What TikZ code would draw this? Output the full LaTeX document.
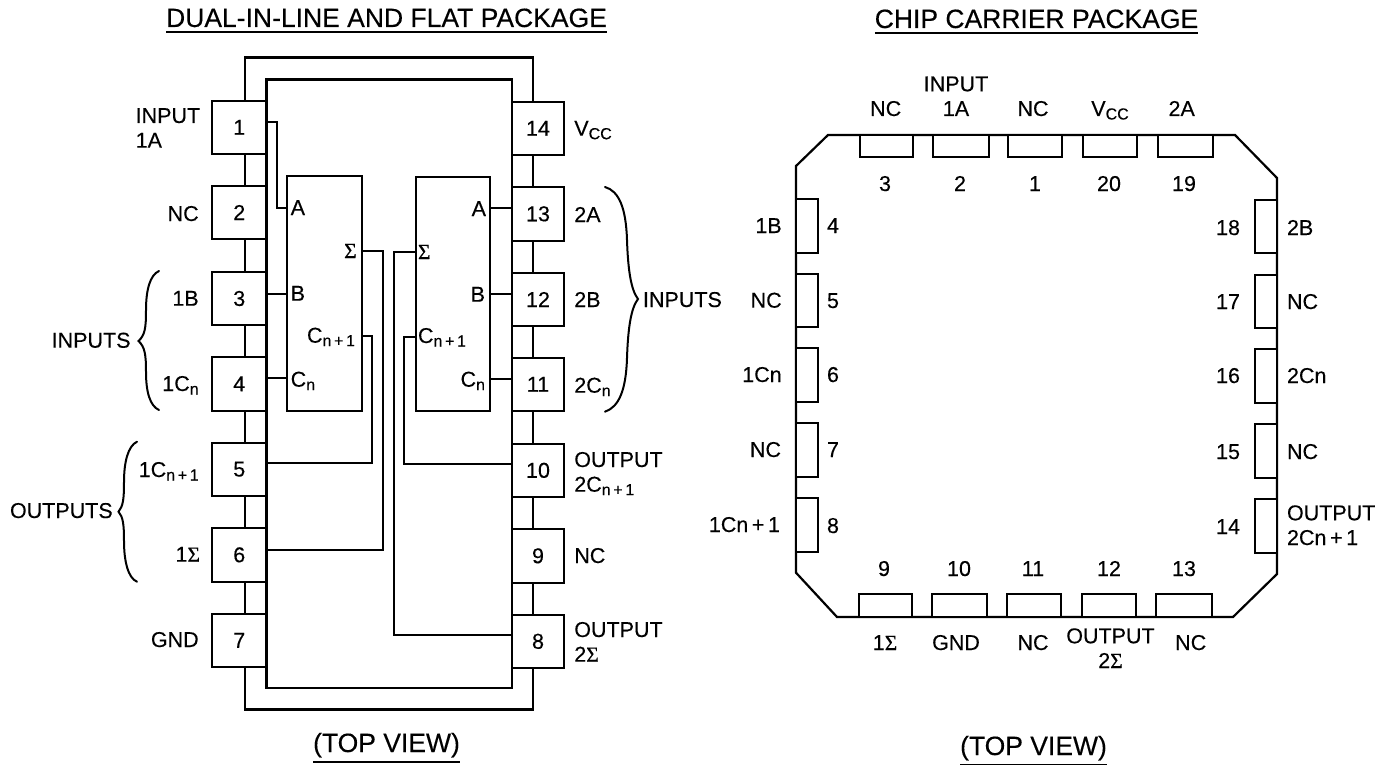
\documentclass[tikz,border=0pt]{standalone}
\usepackage{fontspec}
\setmainfont[FakeBold=0.25]{Liberation Sans}
\newfontfamily\sigmafont[FakeBold=0.5]{Liberation Serif}
\usetikzlibrary{calc}
\newcommand{\Sg}{{\sigmafont Σ}}
\newcommand{\low}[1]{\raisebox{-3.5pt}{\fontsize{16}{16}\selectfont #1}}
\newcommand{\ulx}[1]{\leavevmode\vtop{\hbox{#1}\kern 3.5pt\hrule height 2.2pt}}
\tikzset{
  wire/.style={line width=1.8pt,line join=miter},
  boxline/.style={line width=2.2pt,line join=miter},
  txt/.style={inner sep=0pt,outer sep=0pt,font=\fontsize{21.5}{24.7}\selectfont},
  tl/.style={txt,anchor=base west},
  tr/.style={txt,anchor=base east},
  tc/.style={txt,anchor=base},
  ttl/.style={tc,font=\fontsize{26.5}{30}\selectfont},
  pinbox/.style={boxline,draw,fill=white,inner sep=0pt,outer sep=0pt,txt},
  pad/.style={boxline,draw,fill=white,inner sep=0pt,outer sep=0pt},
  brace/.style={line width=2pt,line cap=round}
}
\newcommand{\boxnode}[7]{%
  % style, name, x1, y1, x2, y2, text
  \node[#1,minimum width=#5pt-#3pt,minimum height=#6pt-#4pt] (#2) at ({(#3+#5)/2},{(#4+#6)/2}) {#7};%
}
\begin{document}
\begin{tikzpicture}[x=1pt,y=-1pt]
\useasboundingbox (0,0) rectangle (1391,765);

% titles
\node[ttl] (t1) at (386.5,27) {\ulx{DUAL-IN-LINE AND FLAT PACKAGE}};
\node[ttl] (t2) at (1036.5,28) {\ulx{CHIP CARRIER PACKAGE}};
\node[ttl] (t3) at (386.5,752) {\ulx{(TOP VIEW)}};
\node[ttl] (t4) at (1033.5,755) {\ulx{(TOP VIEW)}};

% outer lead frame and body of the DIL package
\draw[boxline] (245,100.7) -- (245,57.5) -- (532.7,57.5) -- (532.7,101.7);
\draw[boxline] (245,154) -- (245,186) (245,239) -- (245,272) (245,325) -- (245,357)
  (245,410.7) -- (245,442.7) (245,495.7) -- (245,528) (245,581.7) -- (245,614);
\draw[boxline] (245,666.7) -- (245,709.5) -- (532.7,709.5) -- (532.7,667.7);
\draw[boxline] (532.7,155) -- (532.7,187) (532.7,240.7) -- (532.7,273) (532.7,326) -- (532.7,357.7)
  (532.7,411) -- (532.7,444) (532.7,496.7) -- (532.7,529) (532.7,582.7) -- (532.7,615);
\node[boxline,draw,inner sep=0pt,minimum width=245.5pt,minimum height=608.5pt] (body) at (389.2,383.7) {};

% DIL pins
\boxnode{pinbox}{p1}{212}{100.7}{266.5}{154}{1}
\boxnode{pinbox}{p2}{212}{186}{266.5}{239}{2}
\boxnode{pinbox}{p3}{212}{272}{266.5}{325}{3}
\boxnode{pinbox}{p4}{212}{357}{266.5}{410.7}{4}
\boxnode{pinbox}{p5}{212}{442.7}{266.5}{495.7}{5}
\boxnode{pinbox}{p6}{212}{528}{266.5}{581.7}{6}
\boxnode{pinbox}{p7}{212}{614}{266.5}{666.7}{7}
\boxnode{pinbox}{p14}{512}{101.7}{564}{155}{14}
\boxnode{pinbox}{p13}{512}{187}{564}{240.7}{13}
\boxnode{pinbox}{p12}{512}{273}{564}{326}{12}
\boxnode{pinbox}{p11}{512}{357.7}{564}{411}{11}
\boxnode{pinbox}{p10}{512}{444}{564}{496.7}{10}
\boxnode{pinbox}{p9}{512}{529}{564}{582.7}{9}
\boxnode{pinbox}{p8}{512}{615}{564}{667.7}{8}

% adder blocks
\boxnode{pad}{L}{287.3}{176}{362.3}{410.7}{}
\boxnode{pad}{R}{415.7}{176.7}{490}{411}{}

% block ports
\coordinate (Lai) at (L.west |- 0,207.7);
\coordinate (Lbi) at (L.west |- 0,294);
\coordinate (Lci) at (L.west |- 0,378);
\coordinate (Lso) at (L.east |- 0,251);
\coordinate (Lco) at (L.east |- 0,336);
\coordinate (Rai) at (R.east |- 0,208);
\coordinate (Rbi) at (R.east |- 0,294);
\coordinate (Rci) at (R.east |- 0,379);
\coordinate (Rso) at (R.west |- 0,251.7);
\coordinate (Rco) at (R.west |- 0,336.7);

% internal wiring
\draw[wire] (p1.east |- 0,121.7) -| (276.7,207.7) -- (Lai);
\draw[wire] (p3.east |- Lbi) -- (Lbi);
\draw[wire] (p4.east |- Lci) -- (Lci);
\draw[wire] (Lso) -| (383.3,550) -- (p6.east |- 0,550);
\draw[wire] (Lco) -| (372.3,463.3) -- (p5.east |- 0,463.3);
\draw[wire] (Rso) -| (394,635) -- (p8.west |- 0,635);
\draw[wire] (Rco) -| (404.3,464) -- (p10.west |- 0,464);
\draw[wire] (Rai) -- (p13.west |- Rai);
\draw[wire] (Rbi) -- (p12.west |- Rbi);
\draw[wire] (Rci) -- (p11.west |- Rci);

% block labels
\node[tl] (la) at (290.7,215) {A};
\node[tl] (lb) at (290.7,300.7) {B};
\node[tl] (lc) at (290.7,386.7) {C\low{n}};
\node[tr] (ls) at (356.7,258) {\Sg};
\node[tr] (lk) at (355,342.7) {C\low{n\,+\,1}};
\node[tr] (ra) at (486,216) {A};
\node[tr] (rb) at (485,301.7) {B};
\node[tr] (rc) at (485,386.7) {C\low{n}};
\node[tl] (rs) at (418,259) {\Sg};
\node[tl] (rk) at (418,343) {C\low{n\,+\,1}};

% DIL left labels
\node[tl,align=left] (d1) at (135.7,147.7) {INPUT\\1A};
\node[tr] (d2) at (198.7,221) {NC};
\node[tr] (d3) at (198.7,305.7) {1B};
\node[tr] (d4) at (198.7,391) {1C\low{n}};
\node[tr] (d5) at (198.7,477) {1C\low{n\,+\,1}};
\node[tr] (d6) at (200,561.7) {1\Sg};
\node[tr] (d7) at (198.7,647) {GND};
\node[tl] (ginl) at (51.7,347.7) {INPUTS};
\node[tl] (goutl) at (10,518) {OUTPUTS};

% DIL right labels
\node[tl] (d14) at (574.3,135.7) {V\low{CC}};
\node[tl] (d13) at (574.3,222) {2A};
\node[tl] (d12) at (574.3,307) {2B};
\node[tl] (d11) at (574.3,392.7) {2C\low{n}};
\node[tl,align=left] (d10) at (574.3,491.7) {OUTPUT\\2C\low{n\,+\,1}};
\node[tl] (d9) at (574.3,563) {NC};
\node[tl,align=left] (d8) at (574.3,661.7) {OUTPUT\\2\Sg};
\node[tl] (ginr) at (643,307) {INPUTS};

% braces
\draw[brace] (159,271) .. controls (150,275) and (146,290) .. (146,310) .. controls (146,328) and (145,335) .. (138.5,341)
  .. controls (145,347) and (146,355) .. (146,372) .. controls (146,392) and (150,406) .. (159,410);
\draw[brace] (137,441.7) .. controls (128,446) and (124,462) .. (124,482) .. controls (124,500) and (123,506) .. (118.5,511.7)
  .. controls (123,517) and (124,524) .. (124,541) .. controls (124,561) and (128,578) .. (137,581.7);
\draw[brace] (605,187) .. controls (619,191) and (626,208) .. (627,240) .. controls (628,270) and (631,290) .. (638,299)
  .. controls (631,308) and (628,328) .. (627,358) .. controls (626,390) and (619,407) .. (605,411.7);

% chip carrier outline
\draw[boxline] (828,135) -- (1235,135) -- (1277,178) -- (1277,574) -- (1233,617) -- (837,617) -- (796,572.7) -- (796,166) -- cycle;

% top pads
\boxnode{pad}{c3}{860}{135}{913}{156.7}{}
\boxnode{pad}{c2}{933}{135}{988.7}{156.7}{}
\boxnode{pad}{c1}{1008}{135}{1062}{156.7}{}
\boxnode{pad}{c20}{1083}{135}{1137}{156.7}{}
\boxnode{pad}{c19}{1157.7}{135}{1212.7}{156.7}{}
% left pads
\boxnode{pad}{c4}{796}{199}{817.7}{252.7}{}
\boxnode{pad}{c5}{796}{274}{817.7}{327}{}
\boxnode{pad}{c6}{796}{348}{817.7}{401.7}{}
\boxnode{pad}{c7}{796}{423}{817.7}{477}{}
\boxnode{pad}{c8}{796}{497.7}{817.7}{552}{}
% right pads
\boxnode{pad}{c18}{1255}{200}{1277}{253}{}
\boxnode{pad}{c17}{1255}{275}{1277}{327.7}{}
\boxnode{pad}{c16}{1255}{349}{1277}{402.7}{}
\boxnode{pad}{c15}{1255}{424}{1277}{478}{}
\boxnode{pad}{c14}{1255}{499}{1277}{553}{}
% bottom pads
\boxnode{pad}{c9}{859}{594}{912}{617}{}
\boxnode{pad}{c10}{932}{594}{987}{617}{}
\boxnode{pad}{c11}{1007}{594}{1061}{617}{}
\boxnode{pad}{c12}{1082}{594}{1136}{617}{}
\boxnode{pad}{c13}{1156}{594}{1212}{617}{}

% chip carrier top text
\node[tc] (a3) at (885.7,116) {NC};
\node[tc,align=center] (a2) at (956,116) {INPUT\\1A};
\node[tc] (a1) at (1033,116) {NC};
\node[tc] (a20) at (1110,116) {V\low{CC}};
\node[tc] (a19) at (1181.7,116) {2A};
\node[tc] (n3) at (885,191) {3};
\node[tc] (n2) at (960,191) {2};
\node[tc] (n1) at (1035,191) {1};
\node[tc] (n20) at (1109,191) {20};
\node[tc] (n19) at (1184,191) {19};
% chip carrier left text
\node[tr] (a4) at (781.7,233) {1B};
\node[tr] (a5) at (781.7,307.7) {NC};
\node[tr] (a6) at (781.7,382) {1Cn};
\node[tr] (a7) at (781,457) {NC};
\node[tr] (a8) at (780,532) {1Cn\,+\,1};
\node[tl] (n4) at (827,233) {4};
\node[tl] (n5) at (827,308) {5};
\node[tl] (n6) at (827,382) {6};
\node[tl] (n7) at (827,457) {7};
\node[tl] (n8) at (827,533) {8};
% chip carrier right text
\node[tr] (n18) at (1240,235) {18};
\node[tr] (n17) at (1240,309) {17};
\node[tr] (n16) at (1240,383) {16};
\node[tr] (n15) at (1240,459) {15};
\node[tr] (n14) at (1240,534) {14};
\node[tl] (a18) at (1287,235) {2B};
\node[tl] (a17) at (1287,309) {NC};
\node[tl] (a16) at (1287,383) {2Cn};
\node[tl] (a15) at (1287,459) {NC};
\node[tl,align=left] (a14) at (1287,545) {OUTPUT\\2Cn\,+\,1};
% chip carrier bottom text
\node[tc] (n9) at (884,576) {9};
\node[tc] (n10) at (959,576) {10};
\node[tc] (n11) at (1033,576) {11};
\node[tc] (n12) at (1109,576) {12};
\node[tc] (n13) at (1184,576) {13};
\node[tc] (a9) at (885,650) {1\Sg};
\node[tc] (a10) at (956,650) {GND};
\node[tc] (a11) at (1033,650) {NC};
\node[tc,align=center] (a12) at (1110.5,668) {OUTPUT\\2\Sg};
\node[tc] (a13) at (1190.7,650) {NC};
\end{tikzpicture}
\end{document}
